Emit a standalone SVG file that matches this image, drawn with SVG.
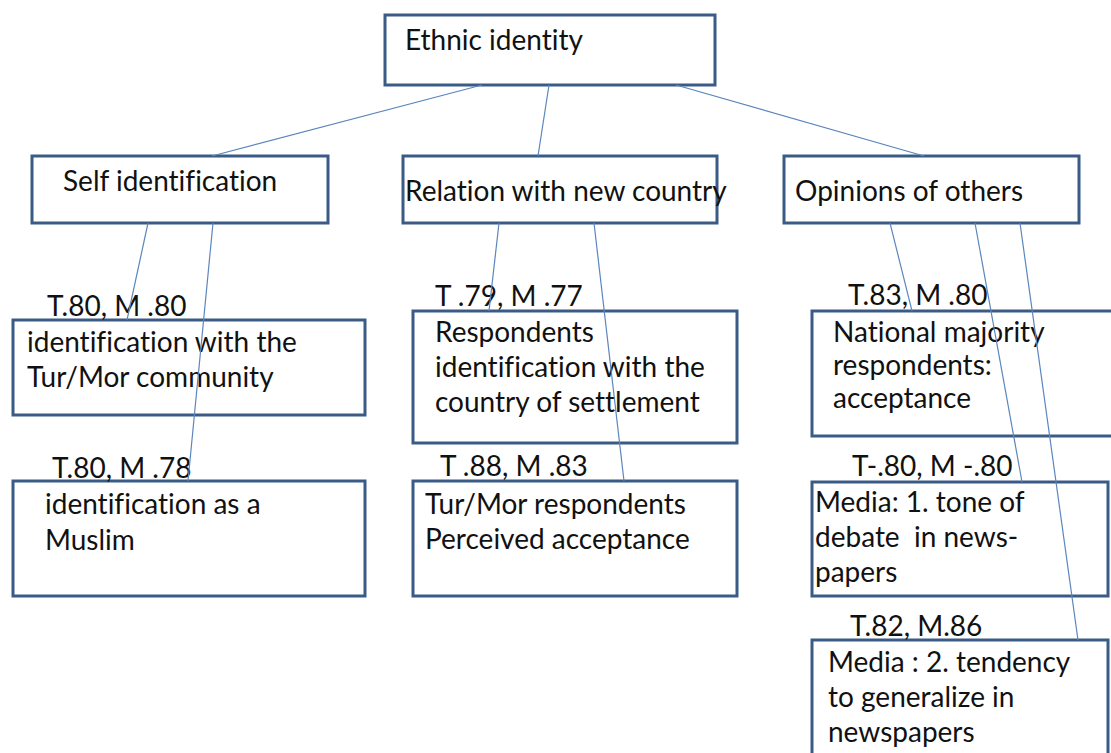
<svg xmlns="http://www.w3.org/2000/svg" width="1111" height="753" viewBox="0 0 1111 753">
<style>
.box{fill:#fff;stroke:#3b5b87;stroke-width:3}
.t{font-family:Lato,"Open Sans","Liberation Sans",sans-serif;font-size:28px;fill:#111;font-variant-ligatures:none}
.c{stroke:#5b86bd;stroke-width:1.2;fill:none}
</style>
<rect width="1111" height="753" fill="#fff"/>
<g id="n-root"><rect class="box" x="385" y="15" width="330" height="70"/><text class="t" x="405" y="50">Ethnic identity</text></g>
<g id="n-self"><rect class="box" x="32" y="156" width="296" height="67"/><text class="t" x="63" y="191">Self identification</text></g>
<g id="n-rel"><rect class="box" x="403" y="156" width="314" height="67"/><text class="t" x="405" y="201">Relation with new country</text></g>
<g id="n-op"><rect class="box" x="784" y="156" width="295" height="67"/><text class="t" x="795" y="201">Opinions of others</text></g>
<g id="n-s1"><rect class="box" x="13" y="320" width="352" height="95"/><text class="t" x="47" y="316">T.80, M .80</text><text class="t" x="27" y="352">identification with the</text><text class="t" x="27" y="387">Tur/Mor community</text></g>
<g id="n-s2"><rect class="box" x="13" y="481" width="352" height="115"/><text class="t" x="52" y="478">T.80, M .78</text><text class="t" x="45" y="514">identification as a</text><text class="t" x="45" y="550">Muslim</text></g>
<g id="n-r1"><rect class="box" x="413" y="311" width="324" height="132"/><text class="t" x="435" y="306">T .79, M .77</text><text class="t" x="435" y="342">Respondents</text><text class="t" x="435" y="377">identification with the</text><text class="t" x="435" y="412">country of settlement</text></g>
<g id="n-r2"><rect class="box" x="413" y="481" width="324" height="115"/><text class="t" x="440" y="476">T .88, M .83</text><text class="t" x="425" y="514">Tur/Mor respondents</text><text class="t" x="425" y="549">Perceived acceptance</text></g>
<g id="n-o1"><rect class="box" x="812" y="311" width="310" height="125"/><text class="t" x="848" y="305">T.83, M .80</text><text class="t" x="833" y="342">National majority</text><text class="t" x="833" y="375">respondents:</text><text class="t" x="833" y="408">acceptance</text></g>
<g id="n-o2"><rect class="box" x="812" y="482" width="296" height="114"/><text class="t" x="852" y="476">T-.80, M -.80</text><text class="t" x="815" y="512">Media: 1. tone of</text><text class="t" x="815" y="547" style="white-space:pre">debate  in news-</text><text class="t" x="815" y="582">papers</text></g>
<g id="n-o3"><rect class="box" x="812" y="640" width="296" height="130"/><text class="t" x="850" y="636">T.82, M.86</text><text class="t" x="828" y="672">Media : 2. tendency</text><text class="t" x="828" y="707">to generalize in</text><text class="t" x="828" y="742">newspapers</text></g>
<g id="connectors">
<line class="c" x1="482" y1="85" x2="212" y2="156"/>
<line class="c" x1="549" y1="85" x2="538" y2="156"/>
<line class="c" x1="676" y1="85" x2="924" y2="156"/>
<line class="c" x1="148" y1="223" x2="127" y2="320"/>
<line class="c" x1="213" y1="223" x2="188" y2="481"/>
<line class="c" x1="499" y1="223" x2="489" y2="311"/>
<line class="c" x1="594" y1="223" x2="624" y2="481"/>
<line class="c" x1="890" y1="223" x2="912" y2="311"/>
<line class="c" x1="975" y1="223" x2="1022" y2="482"/>
<line class="c" x1="1020" y1="223" x2="1078" y2="640"/>
</g>
</svg>
